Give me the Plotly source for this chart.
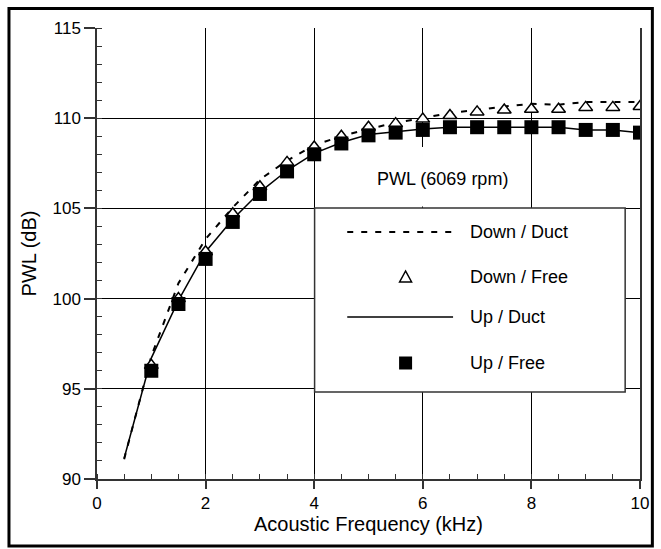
import plotly.graph_objects as go

# ---------------- data ----------------
freq_duct = [0.5, 1.0, 1.5, 2.0, 2.5, 3.0, 3.5, 4.0, 4.5, 5.0,
             5.5, 6.0, 6.5, 7.0, 7.5, 8.0, 8.5, 9.0, 9.5, 10.0]
down_duct = [91.1, 96.8, 100.85, 103.3, 105.05, 106.6, 107.65, 108.5, 109.0, 109.4,
             109.75, 110.0, 110.3, 110.45, 110.65, 110.8, 110.75, 110.9, 110.9, 110.9]
up_duct = [91.15, 96.7, 99.9, 102.6, 104.4, 105.9, 107.1, 108.05, 108.65, 109.1,
           109.25, 109.4, 109.5, 109.5, 109.5, 109.5, 109.5, 109.35, 109.35, 109.2]

freq_free = [1.0, 1.5, 2.0, 2.5, 3.0, 3.5, 4.0, 4.5, 5.0,
             5.5, 6.0, 6.5, 7.0, 7.5, 8.0, 8.5, 9.0, 9.5, 10.0]
down_free = [96.3, 100.0, 102.6, 104.7, 106.2, 107.55, 108.4, 109.0, 109.5,
             109.7, 109.95, 110.15, 110.35, 110.45, 110.5, 110.5, 110.6, 110.6, 110.65]
up_free = [96.0, 99.7, 102.2, 104.25, 105.8, 107.05, 108.0, 108.6, 109.05,
           109.2, 109.35, 109.5, 109.5, 109.5, 109.5, 109.5, 109.35, 109.35, 109.2]

x_ticks = [0, 2, 4, 6, 8, 10]
y_ticks = [90, 95, 100, 105, 110, 115]
legend_labels = ["Down / Duct", "Down / Free", "Up / Duct", "Up / Free"]
note_text = "PWL (6069 rpm)"
x_title = "Acoustic Frequency (kHz)"
y_title = "PWL (dB)"

# ---------------- geometry ----------------
W, H = 661, 549
ML, MR, MT, MB = 97, 15, 28, 70
PW, PH = W - ML - MR, H - MT - MB
FONT = "Arial, 'Liberation Sans', sans-serif"
AXC = "#333333"


def px(xp):
    return (xp - ML) / PW


def py(yp):
    return (MT + PH - yp) / PH


fig = go.Figure()
fig.add_trace(go.Scatter(x=freq_duct, y=down_duct, mode="lines", name=legend_labels[0],
                         line=dict(color="black", width=2, dash="6px,8px")))
fig.add_trace(go.Scatter(x=freq_duct, y=up_duct, mode="lines", name=legend_labels[2],
                         line=dict(color="black", width=1.5)))
fig.add_trace(go.Scatter(x=freq_free, y=down_free, mode="markers", name=legend_labels[1],
                         marker=dict(symbol="triangle-up", size=12, color="white",
                                     line=dict(color="black", width=1.5))))
fig.add_trace(go.Scatter(x=freq_free, y=up_free, mode="markers", name=legend_labels[3],
                         marker=dict(symbol="square", size=14, color="black",
                                     line=dict(width=0))))

shapes = []
# white background behind the note text (above grid, below data)
shapes.append(dict(type="rect", xref="x", yref="y", x0=4.78, x1=7.88, y0=105.1, y1=108.4,
                   fillcolor="white", line=dict(width=0), layer="between"))
# legend box
lx0, lx1, ly_top, ly_bot = 317, 631, 208, 392
shapes.append(dict(type="rect", xref="paper", yref="paper", x0=px(lx0), x1=px(lx1),
                   y0=py(ly_bot), y1=py(ly_top), fillcolor="white",
                   line=dict(color=AXC, width=1.5), layer="above"))
rows = [232, 277, 317, 363]
line_x0, line_x1, mark_x, text_x = 350, 457, 409, 472
shapes.append(dict(type="line", xref="paper", yref="paper", x0=px(line_x0), x1=px(line_x1),
                   y0=py(rows[0]), y1=py(rows[0]),
                   line=dict(color="black", width=2, dash="6px,8px"), layer="above"))
shapes.append(dict(type="path", xref="paper", yref="paper", xsizemode="pixel", ysizemode="pixel",
                   xanchor=px(mark_x), yanchor=py(rows[1]),
                   path="M-6,-5 L6,-5 L0,6 Z", fillcolor="white",
                   line=dict(color="black", width=1.5), layer="above"))
shapes.append(dict(type="line", xref="paper", yref="paper", x0=px(line_x0), x1=px(line_x1),
                   y0=py(rows[2]), y1=py(rows[2]),
                   line=dict(color="black", width=1.5), layer="above"))
shapes.append(dict(type="rect", xref="paper", yref="paper", xsizemode="pixel", ysizemode="pixel",
                   xanchor=px(mark_x), yanchor=py(rows[3]), x0=-6.5, x1=6.5, y0=-6.5, y1=6.5,
                   fillcolor="black", line=dict(width=0), layer="above"))
# outer thick frame
shapes.append(dict(type="rect", xref="paper", yref="paper", x0=px(8), x1=px(658.5),
                   y0=py(546), y1=py(8.5), line=dict(color="black", width=3),
                   fillcolor="rgba(0,0,0,0)", layer="above"))

annotations = []
for lab, r in zip(legend_labels, rows):
    annotations.append(dict(text=lab, xref="paper", yref="paper", x=px(text_x), y=py(r),
                            xanchor="left", yanchor="middle", showarrow=False,
                            font=dict(size=18, color="black", family=FONT)))
annotations.append(dict(text=note_text, xref="paper", yref="paper", x=px(446), y=py(179),
                        xanchor="center", yanchor="middle", showarrow=False,
                        font=dict(size=18, color="black", family=FONT)))

fig.update_layout(
    width=W, height=H,
    margin=dict(l=ML, r=MR, t=MT, b=MB, pad=0),
    paper_bgcolor="white", plot_bgcolor="white",
    showlegend=False,
    font=dict(family=FONT, color="black"),
    shapes=shapes, annotations=annotations,
    xaxis=dict(range=[0, 10], tickvals=x_ticks, ticktext=[str(v) for v in x_ticks],
               ticks="outside", ticklen=8, tickwidth=1.5, tickcolor=AXC,
               showline=True, linecolor=AXC, linewidth=1.5, mirror=False,
               showgrid=True, gridcolor="black", gridwidth=1, zeroline=False,
               minor=dict(dtick=0.5, ticks="inside", ticklen=5, tickwidth=1.2,
                          tickcolor=AXC, showgrid=False),
               tickfont=dict(size=17, color="black"),
               title=dict(text=x_title, font=dict(size=20, color="black"), standoff=5)),
    yaxis=dict(range=[90, 115], tickvals=y_ticks, ticktext=[str(v) for v in y_ticks],
               ticks="outside", ticklen=11, tickwidth=1.5, tickcolor=AXC,
               showline=True, linecolor=AXC, linewidth=1.5, mirror=True,
               showgrid=True, gridcolor="black", gridwidth=1, zeroline=False,
               minor=dict(dtick=1, ticks="inside", ticklen=5, tickwidth=1.2,
                          tickcolor=AXC, showgrid=False),
               tickfont=dict(size=17, color="black"),
               title=dict(text=y_title, font=dict(size=20, color="black"), standoff=10)),
)

fig.write_html("out.html")
